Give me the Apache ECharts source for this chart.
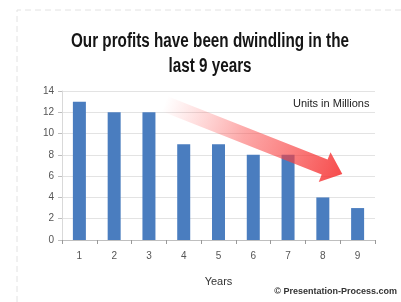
<!DOCTYPE html>
<html>
<head>
<meta charset="utf-8">
<script src="https://cdn.jsdelivr.net/npm/echarts@6/dist/echarts.min.js"></script>
<style>
  html, body { margin: 0; padding: 0; background: #fff; }
  #chart { width: 401px; height: 302px; }
</style>
</head>
<body>
<div id="chart"></div>
<script>
const years = ['1', '2', '3', '4', '5', '6', '7', '8', '9']
const profits = [13, 12, 12, 9, 9, 8, 8, 4, 3]
const titleLines = ['Our profits have been dwindling in the', 'last 9 years']
const arrowStart = [2.45, 12.8] // [category index, value]
const arrowEnd = [7.56, 6.2]

const chart = echarts.init(document.getElementById('chart'), null, { renderer: 'canvas' })

const option = {
  animation: false,
  backgroundColor: '#fff',
  grid: { left: 62, right: 26, top: 91, bottom: 62 },
  xAxis: {
    type: 'category',
    data: years,
    name: 'Years',
    nameLocation: 'middle',
    nameGap: 36,
    nameTextStyle: { fontFamily: 'Liberation Sans', fontSize: 11, color: '#333' },
    axisLine: { lineStyle: { color: '#bfbfbf' } },
    axisTick: { show: true, length: 4, lineStyle: { color: '#999' } },
    axisLabel: { fontFamily: 'Liberation Sans', fontSize: 10, color: '#555', margin: 11 }
  },
  yAxis: {
    type: 'value',
    min: 0,
    max: 14,
    interval: 2,
    axisLine: { show: true, lineStyle: { color: '#d9d9d9' } },
    axisTick: { show: true, length: 4, lineStyle: { color: '#bfbfbf' } },
    axisLabel: { fontFamily: 'Liberation Sans', fontSize: 10, color: '#555', margin: 8 },
    splitLine: { lineStyle: { color: '#e3e3e3' } }
  },
  series: [{
    type: 'bar',
    data: profits,
    barWidth: 13,
    itemStyle: { color: '#4a7dbf' }
  }]
}
chart.setOption(option)

// 类目轴上的小数位置，自己插值
function toPixel(pt) {
  const i = Math.floor(pt[0])
  const f = pt[0] - i
  const a = chart.convertToPixel({ seriesIndex: 0 }, [i, pt[1]])
  const b = chart.convertToPixel({ seriesIndex: 0 }, [i + 1, pt[1]])
  return [a[0] + (b[0] - a[0]) * f, a[1]]
}

const p0 = toPixel(arrowStart)
const p1 = toPixel(arrowEnd)
const dx = p1[0] - p0[0]
const dy = p1[1] - p0[1]
const len = Math.sqrt(dx * dx + dy * dy)
const ux = dx / len, uy = dy / len
const nx = -uy, ny = ux
const shaftHalf = 8, headHalf = 16, headLen = 19
const bx = p1[0] - ux * headLen, by = p1[1] - uy * headLen
const pts = [
  [p0[0] + nx * shaftHalf, p0[1] + ny * shaftHalf],
  [bx + nx * shaftHalf, by + ny * shaftHalf],
  [bx + nx * headHalf, by + ny * headHalf],
  [p1[0], p1[1]],
  [bx - nx * headHalf, by - ny * headHalf],
  [bx - nx * shaftHalf, by - ny * shaftHalf],
  [p0[0] - nx * shaftHalf, p0[1] - ny * shaftHalf]
]
const minX = Math.min(...pts.map(p => p[0])), maxX = Math.max(...pts.map(p => p[0]))
const minY = Math.min(...pts.map(p => p[1])), maxY = Math.max(...pts.map(p => p[1]))

// 标题用压窄的粗体，宽度对齐到原图
const titleFont = 'bold 20px "Liberation Sans"'
const ctx = document.createElement('canvas').getContext('2d')
ctx.font = titleFont
const titleScale = 278 / ctx.measureText(titleLines[0]).width

chart.setOption({
  graphic: [
    { // 虚线边框
      type: 'polyline',
      shape: { points: [[17, 302], [17, 10], [401, 10]] },
      style: { stroke: '#e2e2e2', lineWidth: 1, lineDash: [6, 4], fill: null },
      silent: true
    },
    ...titleLines.map((line, k) => ({
      type: 'text',
      x: 210,
      y: 41 + k * 25,
      scaleX: titleScale,
      style: {
        text: line,
        font: titleFont,
        fill: '#151515',
        align: 'center',
        verticalAlign: 'middle'
      }
    })),
    {
      type: 'polygon',
      shape: { points: pts },
      style: {
        fill: new echarts.graphic.LinearGradient(
          (p0[0] - minX) / (maxX - minX), (p0[1] - minY) / (maxY - minY),
          (p1[0] - minX) / (maxX - minX), (p1[1] - minY) / (maxY - minY),
          [
            { offset: 0, color: 'rgba(255, 110, 110, 0)' },
            { offset: 0.45, color: 'rgba(250, 80, 80, 0.5)' },
            { offset: 1, color: 'rgba(245, 45, 45, 0.85)' }
          ]
        )
      },
      z: 10,
      silent: true
    },
    {
      type: 'text',
      left: 293,
      top: 98,
      style: { text: 'Units in Millions', fontFamily: 'Liberation Sans', fontSize: 11, fill: '#222' },
      z: 11
    },
    {
      type: 'text',
      right: 4,
      top: 287,
      style: { text: '© Presentation-Process.com', fontFamily: 'Liberation Sans', fontSize: 9, fontWeight: 'bold', fill: '#333' }
    }
  ]
})
</script>
</body>
</html>
